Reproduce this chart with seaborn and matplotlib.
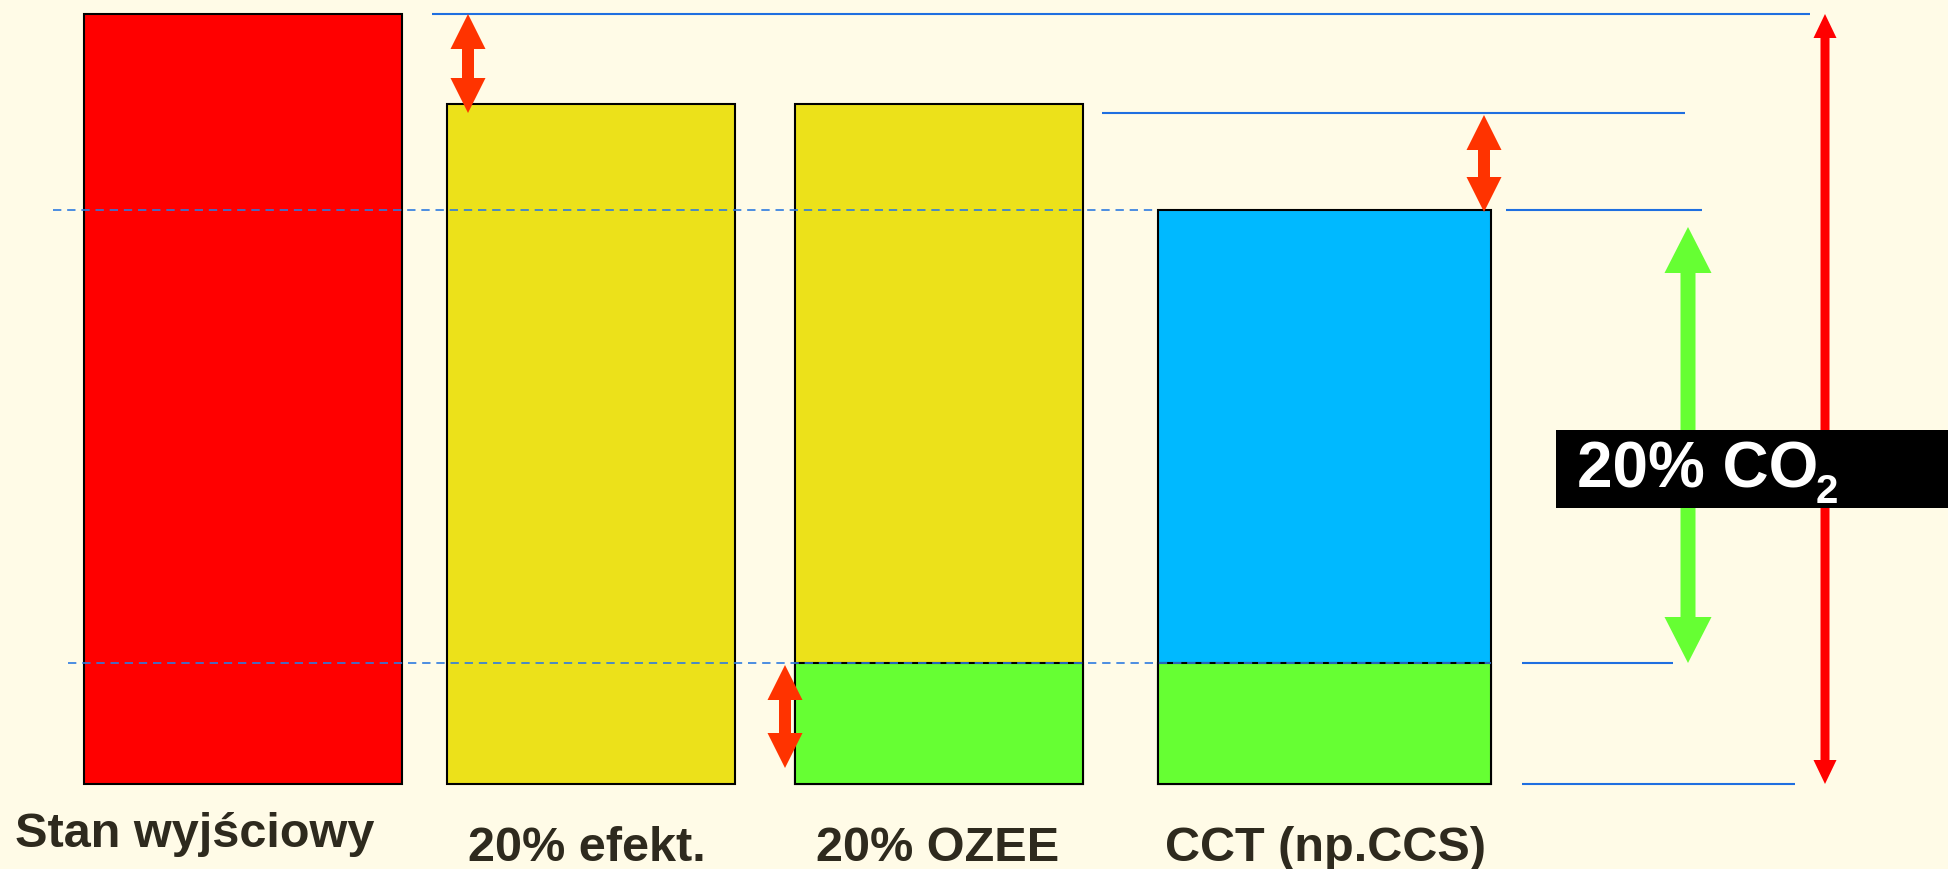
import matplotlib
matplotlib.use("Agg")
import matplotlib.pyplot as plt
import seaborn as sns
import pandas as pd
from matplotlib import font_manager
from matplotlib.patches import Polygon, Rectangle

# ---------------- data ----------------
categories = ["Stan wyjściowy", "20% efekt.", "20% OZEE", "CCT (np.CCS)"]
total_values = [100.0, 88.3, 88.3, 74.5]     # bar heights (baseline = 100)
green_values = [0.0, 0.0, 15.7, 15.7]        # green (lower) segment
bar_colors = ["#FF0000", "#ECE11A", "#ECE11A", "#00B9FF"]
green_color = "#66FF33"
co2_text = "20% CO"
co2_sub = "2"

# ---------------- layout (pixels of a 1948x869 canvas) ----------------
W, H = 1948, 869
BASE_PX = 784.0            # pixel row of value 0
PX_PER_UNIT = 7.70         # pixels per value unit
bar_left_px = [84, 447, 795, 1158]
bar_width_px = [318, 288, 288, 333]
label_left_px = [15, 468, 816, 1165]
label_base_px = [847, 861, 861, 861]

BG = "#FFFBE7"
LINE_BLUE = "#1F6FE0"
ORANGE = "#FF3300"

sns.set_style("white")


def pick(fams):
    for f in fams:
        try:
            font_manager.findfont(font_manager.FontProperties(family=f),
                                  fallback_to_default=False)
            return f
        except Exception:
            pass
    return "DejaVu Sans"


sans = pick(["Liberation Sans", "Arial", "DejaVu Sans"])
plt.rcParams["font.family"] = [sans, "DejaVu Sans"]


def yv(p):
    """pixel row -> value"""
    return (BASE_PX - p) / PX_PER_UNIT


fig = plt.figure(figsize=(W / 100, H / 100), dpi=100, facecolor=BG)
ax = fig.add_axes([0, 0, 1, 1])
ax.set_facecolor(BG)

df = pd.DataFrame({"cat": categories, "total": total_values, "green": green_values})
sns.barplot(data=df, x="cat", y="total", hue="cat", palette=bar_colors,
            legend=False, ax=ax, edgecolor="black", linewidth=1.5,
            saturation=1, zorder=2)
n1 = len(ax.patches)
sns.barplot(data=df, x="cat", y="green", color=green_color, ax=ax,
            edgecolor="black", linewidth=1.5, saturation=1, zorder=3)

p_tot = sorted(ax.patches[:n1], key=lambda p: p.get_x())
p_grn = sorted(ax.patches[n1:], key=lambda p: p.get_x())
for i, p in enumerate(p_tot):
    p.set_x(bar_left_px[i])
    p.set_width(bar_width_px[i])
for i, p in enumerate(p_grn):
    p.set_x(bar_left_px[i])
    p.set_width(bar_width_px[i])
    if p.get_height() <= 0:
        p.set_visible(False)

ax.set_xlim(0, W)
ax.set_ylim(yv(H), yv(0))
ax.set_axis_off()

# ---------------- reference lines ----------------
def hline(y_val, x0, x1, **kw):
    ax.plot([x0, x1], [y_val, y_val], solid_capstyle="butt", **kw)

solid = dict(color=LINE_BLUE, lw=1.5, zorder=5)
hline(total_values[0], 432, 1810, **solid)
hline(yv(113), 1102, 1685, **solid)
hline(total_values[3], 1506, 1702, **solid)
hline(green_values[3], 1522, 1673, **solid)
hline(0, 1522, 1795, **solid)

dashed = dict(color="#2E7BE0", lw=1.2, zorder=6, dashes=(5, 3.5))
hline(total_values[3], 53, 1158, **dashed)
hline(green_values[3], 68, 1491, **dashed)


# ---------------- arrows ----------------
def double_arrow(x, top_px, bot_px, shaft, head_w, head_l, color, z=7):
    t, b = top_px, bot_px
    pts_px = [(x, t), (x + head_w / 2, t + head_l), (x + shaft / 2, t + head_l),
              (x + shaft / 2, b - head_l), (x + head_w / 2, b - head_l), (x, b),
              (x - head_w / 2, b - head_l), (x - shaft / 2, b - head_l),
              (x - shaft / 2, t + head_l), (x - head_w / 2, t + head_l)]
    pts = [(px, yv(py)) for px, py in pts_px]
    ax.add_patch(Polygon(pts, closed=True, facecolor=color, edgecolor="none",
                         zorder=z))

double_arrow(468, 14, 113, 12, 35, 35, ORANGE)
double_arrow(1484, 115, 212, 12, 35, 35, ORANGE)
double_arrow(785, 665, 768, 12, 35, 35, ORANGE)
double_arrow(1825, 14, 784, 9, 23, 24, "#FF0000")
double_arrow(1688, 227, 663, 15, 47, 46, green_color)

# ---------------- black label box ----------------
fx = lambda px: px / W
fy = lambda py: 1 - py / H
fig.patches.append(Rectangle((fx(1556), fy(508)), fx(1948) - fx(1556),
                             fy(430) - fy(508), transform=fig.transFigure,
                             facecolor="black", edgecolor="none", zorder=10))
fig.text(fx(1577), fy(488), co2_text, color="white", fontsize=46,
         fontweight="bold", family=[sans, "DejaVu Sans"], ha="left",
         va="baseline", zorder=11)
fig.text(fx(1816), fy(503), co2_sub, color="white", fontsize=29,
         fontweight="bold", family=[sans, "DejaVu Sans"], ha="left",
         va="baseline", zorder=11)

# ---------------- category labels ----------------
for i, lab in enumerate(categories):
    fig.text(fx(label_left_px[i]), fy(label_base_px[i]), lab,
             color="#2E2A1E", fontsize=35, fontweight="bold",
             family=[sans, "DejaVu Sans"], ha="left", va="baseline")

fig.savefig("out.png", dpi=100, facecolor=BG)
